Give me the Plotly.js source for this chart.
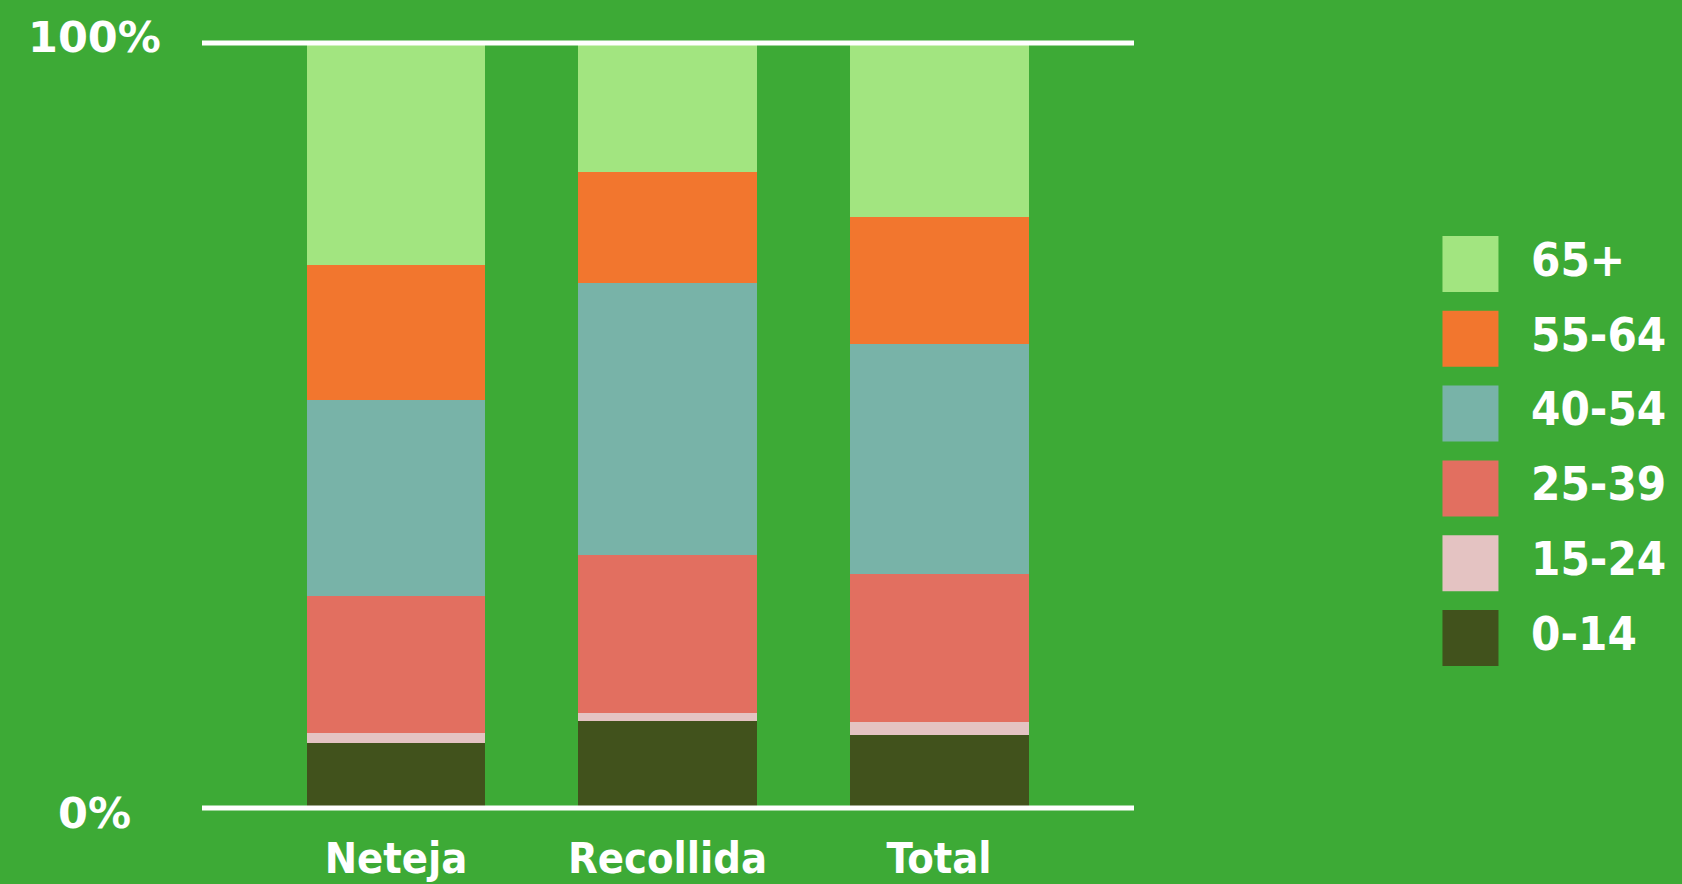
<!DOCTYPE html>
<html>
<head>
<meta charset="utf-8">
<script src="https://cdn.plot.ly/plotly-3.0.1.min.js"></script>
<style>
html,body{margin:0;padding:0;background:#3DAA36;}
#chart{width:1682px;height:884px;}
</style>
</head>
<body>
<div id="chart"></div>
<script>
// ---- data ----
var categories = ['Neteja', 'Recollida', 'Total'];
var ageGroups = ['0-14', '15-24', '25-39', '40-54', '55-64', '65+'];
var v0_14  = [8.5, 11.4, 9.6];
var v15_24 = [1.3, 1.0, 1.7];
var v25_39 = [17.9, 20.7, 19.3];
var v40_54 = [25.6, 35.5, 30.1];
var v55_64 = [17.7, 14.6, 16.6];
var v65    = [29.0, 16.8, 22.7];
var yTickVals = [0, 100];
var yTickText = ['0%', '100%'];

// ---- styles ----
var colors = ['#41521C', '#E4C3C2', '#E26F60', '#78B3A8', '#F2762E', '#A2E580'];
var series = [v0_14, v15_24, v25_39, v40_54, v55_64, v65];
var BG = '#3DAA36';
var FONT = '"DejaVu Sans Condensed", "DejaVu Sans", sans-serif';

var traces = [];
for (var i = 0; i < ageGroups.length; i++) {
  traces.push({
    type: 'bar',
    name: ageGroups[i],
    x: categories.map(function (c, k) { return k; }),
    y: series[i],
    marker: { color: colors[i], line: { width: 0 } },
    showlegend: false,
    hoverinfo: 'skip'
  });
}

// custom legend (big square swatches), top-to-bottom = 65+ ... 0-14
var legNames = ageGroups.slice().reverse();
var legColors = colors.slice().reverse();
var legIdx = legNames.map(function (n, k) { return k; });
traces.push({
  type: 'scatter', mode: 'markers',
  x: legIdx.map(function () { return 0; }),
  y: legIdx,
  xaxis: 'x2', yaxis: 'y2',
  marker: { symbol: 'square', size: 56, color: legColors, line: { width: 0 } },
  showlegend: false, hoverinfo: 'skip'
});
traces.push({
  type: 'scatter', mode: 'text',
  x: legIdx.map(function () { return 0.225; }),
  y: legIdx,
  text: legNames,
  textposition: 'middle right',
  textfont: { family: FONT, size: 47, color: '#ffffff', weight: 'bold' },
  xaxis: 'x2', yaxis: 'y2',
  showlegend: false, hoverinfo: 'skip'
});

var annotations = yTickVals.map(function (v, k) {
  return {
    xref: 'paper', yref: 'y', x: 94 / 1682, y: v,
    xanchor: 'center', yanchor: 'middle',
    text: yTickText[k], showarrow: false,
    yshift: v === 0 ? -5 : 6,
    font: { family: '"DejaVu Sans", sans-serif', size: 43, color: '#ffffff', weight: 'bold' }
  };
});

var layout = {
  width: 1682, height: 884,
  paper_bgcolor: BG, plot_bgcolor: BG,
  margin: { l: 0, r: 0, t: 0, b: 0 },
  barmode: 'stack',
  bargap: 0.341,
  showlegend: false,
  xaxis: {
    domain: [202 / 1682, 1134 / 1682],
    range: [-0.7145, 2.718],
    tickvals: [0, 1, 2],
    ticktext: categories,
    showgrid: false, zeroline: false, showline: false,
    ticks: '', ticklabelstandoff: 13,
    automargin: false,
    tickfont: { family: FONT, size: 43, color: '#ffffff', weight: 'bold' }
  },
  yaxis: {
    domain: [0.07732, 0.96001],
    range: [-1, 101],
    showgrid: false, zeroline: false, showline: false,
    showticklabels: false, ticks: '', automargin: false
  },
  xaxis2: {
    domain: [0.84, 1], range: [-0.214, 0.786],
    visible: false, anchor: 'y2', fixedrange: true
  },
  yaxis2: {
    domain: [0, 1], range: [8.289, -3.529],
    visible: false, anchor: 'x2', fixedrange: true
  },
  shapes: [
    { type: 'line', xref: 'x domain', yref: 'y', x0: 0, x1: 1, y0: 0, y1: 0,
      line: { color: '#ffffff', width: 5 } },
    { type: 'line', xref: 'x domain', yref: 'y', x0: 0, x1: 1, y0: 100, y1: 100,
      line: { color: '#ffffff', width: 5 } }
  ],
  annotations: annotations
};

Plotly.newPlot('chart', traces, layout, { displayModeBar: false, staticPlot: true });
</script>
</body>
</html>
